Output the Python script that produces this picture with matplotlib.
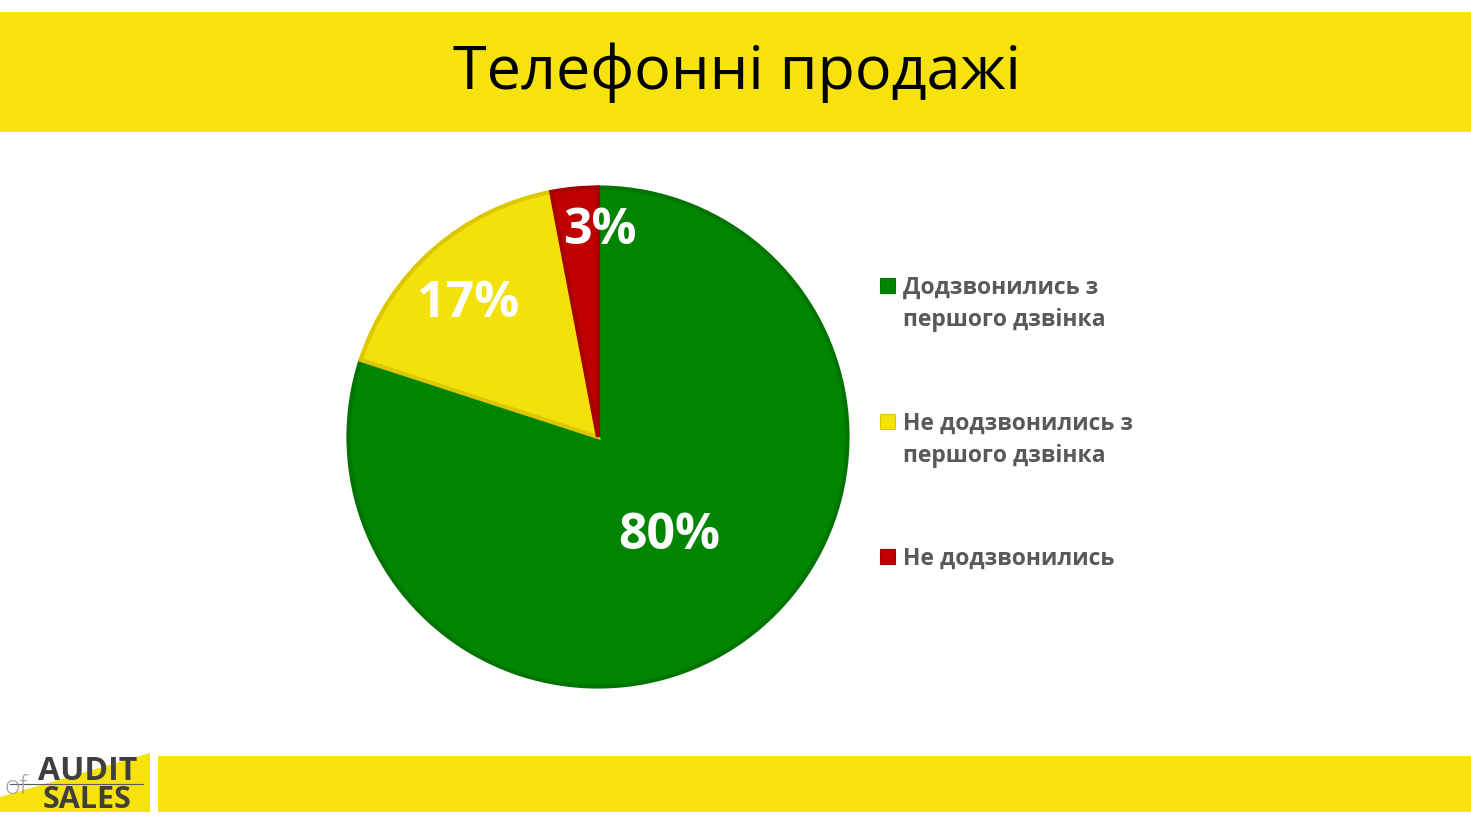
import numpy as np
import matplotlib
matplotlib.use("Agg")
import matplotlib.pyplot as plt
from matplotlib.patches import Rectangle, Polygon

title = "Телефонні продажі"
categories = ["Додзвонились з\nпершого дзвінка", "Не додзвонились з\nпершого дзвінка", "Не додзвонились"]
values = [80, 17, 3]
labels = ["80%", "17%", "3%"]
colors = ["#008500", "#F5E10A", "#C00000"]
edges = ["#007400", "#DCC800", "#A80000"]
# label anchor positions in pie-axis units (style, not data)
label_pos = [(0.286, -0.395), (-0.52, 0.535), (0.008, 0.825)]

FONT = ["Open Sans", "DejaVu Sans"]
plt.rcParams['font.family'] = FONT

W, H = 1471, 818
fig = plt.figure(figsize=(W/100, H/100), dpi=100)
fig.patch.set_facecolor("white")

ov = fig.add_axes([0, 0, 1, 1])
ov.set_xlim(0, W); ov.set_ylim(H, 0); ov.axis("off")

YEL = "#F7E20E"
ov.add_patch(Rectangle((0, 12), W, 120, color=YEL, lw=0))
ov.add_patch(Rectangle((158, 756), W-158, 56, color=YEL, lw=0))
ov.text(737, 73, title, ha="center", va="center", fontsize=44, color="black")

# logo
ov.add_patch(Polygon([(0, 797), (150, 753), (150, 812), (0, 812)], closed=True, color=YEL, lw=0))
ov.text(88, 771, "AUDIT", ha="center", va="center", fontsize=23, fontweight="bold", color="#3F3F3F")
ov.text(87, 800, "SALES", ha="center", va="center", fontsize=22, fontweight="bold", color="#3F3F3F")
ov.plot([10, 143], [784, 784], color="#5a5a5a", lw=0.8)
ov.text(16, 787, "of", ha="center", va="center", fontsize=19, fontweight="light", color="#a0a0a0")

# pie
cx, cy, r = 598, 437, 252
ax = fig.add_axes([(cx-r)/W, (H-cy-r)/H, 2*r/W, 2*r/H])
wedges, _ = ax.pie(values, colors=colors, startangle=90, counterclock=False, radius=1,
                   wedgeprops=dict(linewidth=3))
for w, e in zip(wedges, edges):
    w.set_edgecolor(e)
    w.set_joinstyle("miter")
ax.set_xlim(-1.01, 1.01); ax.set_ylim(-1.01, 1.01)
ax.set_aspect("equal")
for lab, (lx, ly) in zip(labels, label_pos):
    ax.text(lx, ly, lab, ha="center", va="center",
            fontsize=36, fontweight="bold", color="white")

# legend
leg_y = [304, 440, 559]
for c, e, name, y in zip(colors, edges, categories, leg_y):
    nlines = name.count("\n") + 1
    sq_y = y - 2 - (nlines-1)*16.5
    ov.add_patch(Rectangle((880, sq_y-8), 15, 15, facecolor=c, edgecolor=e, lw=0.8))
    ov.text(903, y, name, ha="left", va="center", fontsize=16.5, fontweight="bold",
            color="#595959", linespacing=1.5)

fig.savefig("out.png", dpi=100)
